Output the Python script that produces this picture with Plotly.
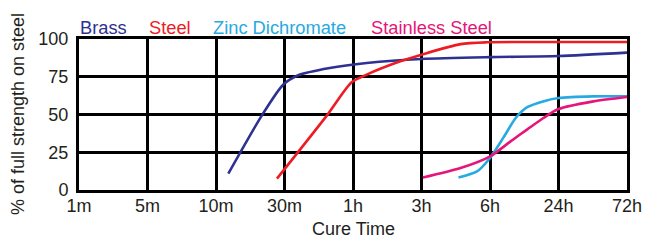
import plotly.graph_objects as go

tick_labels = ["1m", "5m", "10m", "30m", "1h", "3h", "6h", "24h", "72h"]
y_ticks = [0, 25, 50, 75, 100]

brass_x = [2.18, 2.67, 2.98, 3.2, 3.66, 4.2, 5.0, 6.0, 7.0, 8.0]
brass_y = [10.8, 49.4, 69.7, 76, 80.8, 84.1, 86.8, 88, 88.7, 91]

steel_x = [2.89, 3.62, 3.98, 4.2, 4.69, 5.0, 5.57, 5.95, 7.0, 8.0]
steel_y = [7.5, 49.4, 71.3, 76.4, 85.2, 89.6, 96.6, 97.8, 98, 98]

zinc_x = [5.54, 5.81, 6.0, 6.2, 6.38, 6.55, 6.8, 7.0, 7.5, 8.0]
zinc_y = [8.3, 12.3, 21.2, 35, 48, 55, 59, 60.9, 62, 62]

stainless_x = [5.02, 5.57, 6.01, 6.30, 6.54, 6.78, 7.0, 7.51, 8.0]
stainless_y = [8.3, 14.6, 22.5, 32.2, 40, 47.7, 53.6, 58.7, 61.6]

series = [
    ("Brass", brass_x, brass_y, "#2E3192"),
    ("Steel", steel_x, steel_y, "#ED1C24"),
    ("Zinc Dichromate", zinc_x, zinc_y, "#27AAE1"),
    ("Stainless Steel", stainless_x, stainless_y, "#E6157A"),
]

FONT = "Liberation Sans, Arial, sans-serif"
L, R, T, B = 79, 30, 39, 52
W, H = 657, 242
PW, PH = W - L - R, H - T - B

fig = go.Figure()
for name, xs, ys, col in series:
    fig.add_trace(go.Scatter(x=xs, y=ys, mode="lines", name=name, hoverinfo="skip",
                             line=dict(color=col, width=2.6, shape="spline", smoothing=0.7)))

legend_x = [78, 147, 211, 369]
for (name, _, _, col), px in zip(series, legend_x):
    fig.add_annotation(text=name, x=(px - L) / PW, xref="paper", xanchor="left",
                       y=(H - B - 27) / PH, yref="paper", yanchor="middle", showarrow=False,
                       font=dict(color=col, size=18.3, family=FONT))

# axis titles
fig.add_annotation(text="Cure Time", x=(353 - L) / PW, xref="paper", xanchor="center",
                   y=-(229 - (H - B)) / PH, yref="paper", yanchor="middle", showarrow=False,
                   font=dict(size=18, family=FONT, color="#231F20"))
fig.add_annotation(text="% of full strength on steel", x=-(L - 18) / PW, xref="paper",
                   xanchor="center", y=((H - B) - 114) / PH, yref="paper", yanchor="middle",
                   textangle=-90, showarrow=False,
                   font=dict(size=18, family=FONT, color="#231F20"))

fig.update_layout(
    width=W, height=H,
    margin=dict(l=L, r=R, t=T, b=B),
    paper_bgcolor="white", plot_bgcolor="white",
    showlegend=False,
    font=dict(family=FONT, size=18, color="#231F20"),
)
fig.update_xaxes(range=[0, 8], tickvals=list(range(9)), ticktext=tick_labels,
                 showgrid=True, gridcolor="black", gridwidth=3,
                 showline=True, linecolor="black", linewidth=3, mirror=True,
                 zeroline=False, ticks="", ticklen=0, automargin=False,
                 ticklabelstandoff=-3)
fig.update_yaxes(range=[0, 100], tickvals=y_ticks,
                 showgrid=True, gridcolor="black", gridwidth=3,
                 showline=True, linecolor="black", linewidth=3, mirror=True,
                 zeroline=False, ticks="", ticklen=0, automargin=False,
                 ticklabelstandoff=4)

fig.write_html("out.html", config={"displayModeBar": False},
               post_script="document.body.style.margin='0px';")
